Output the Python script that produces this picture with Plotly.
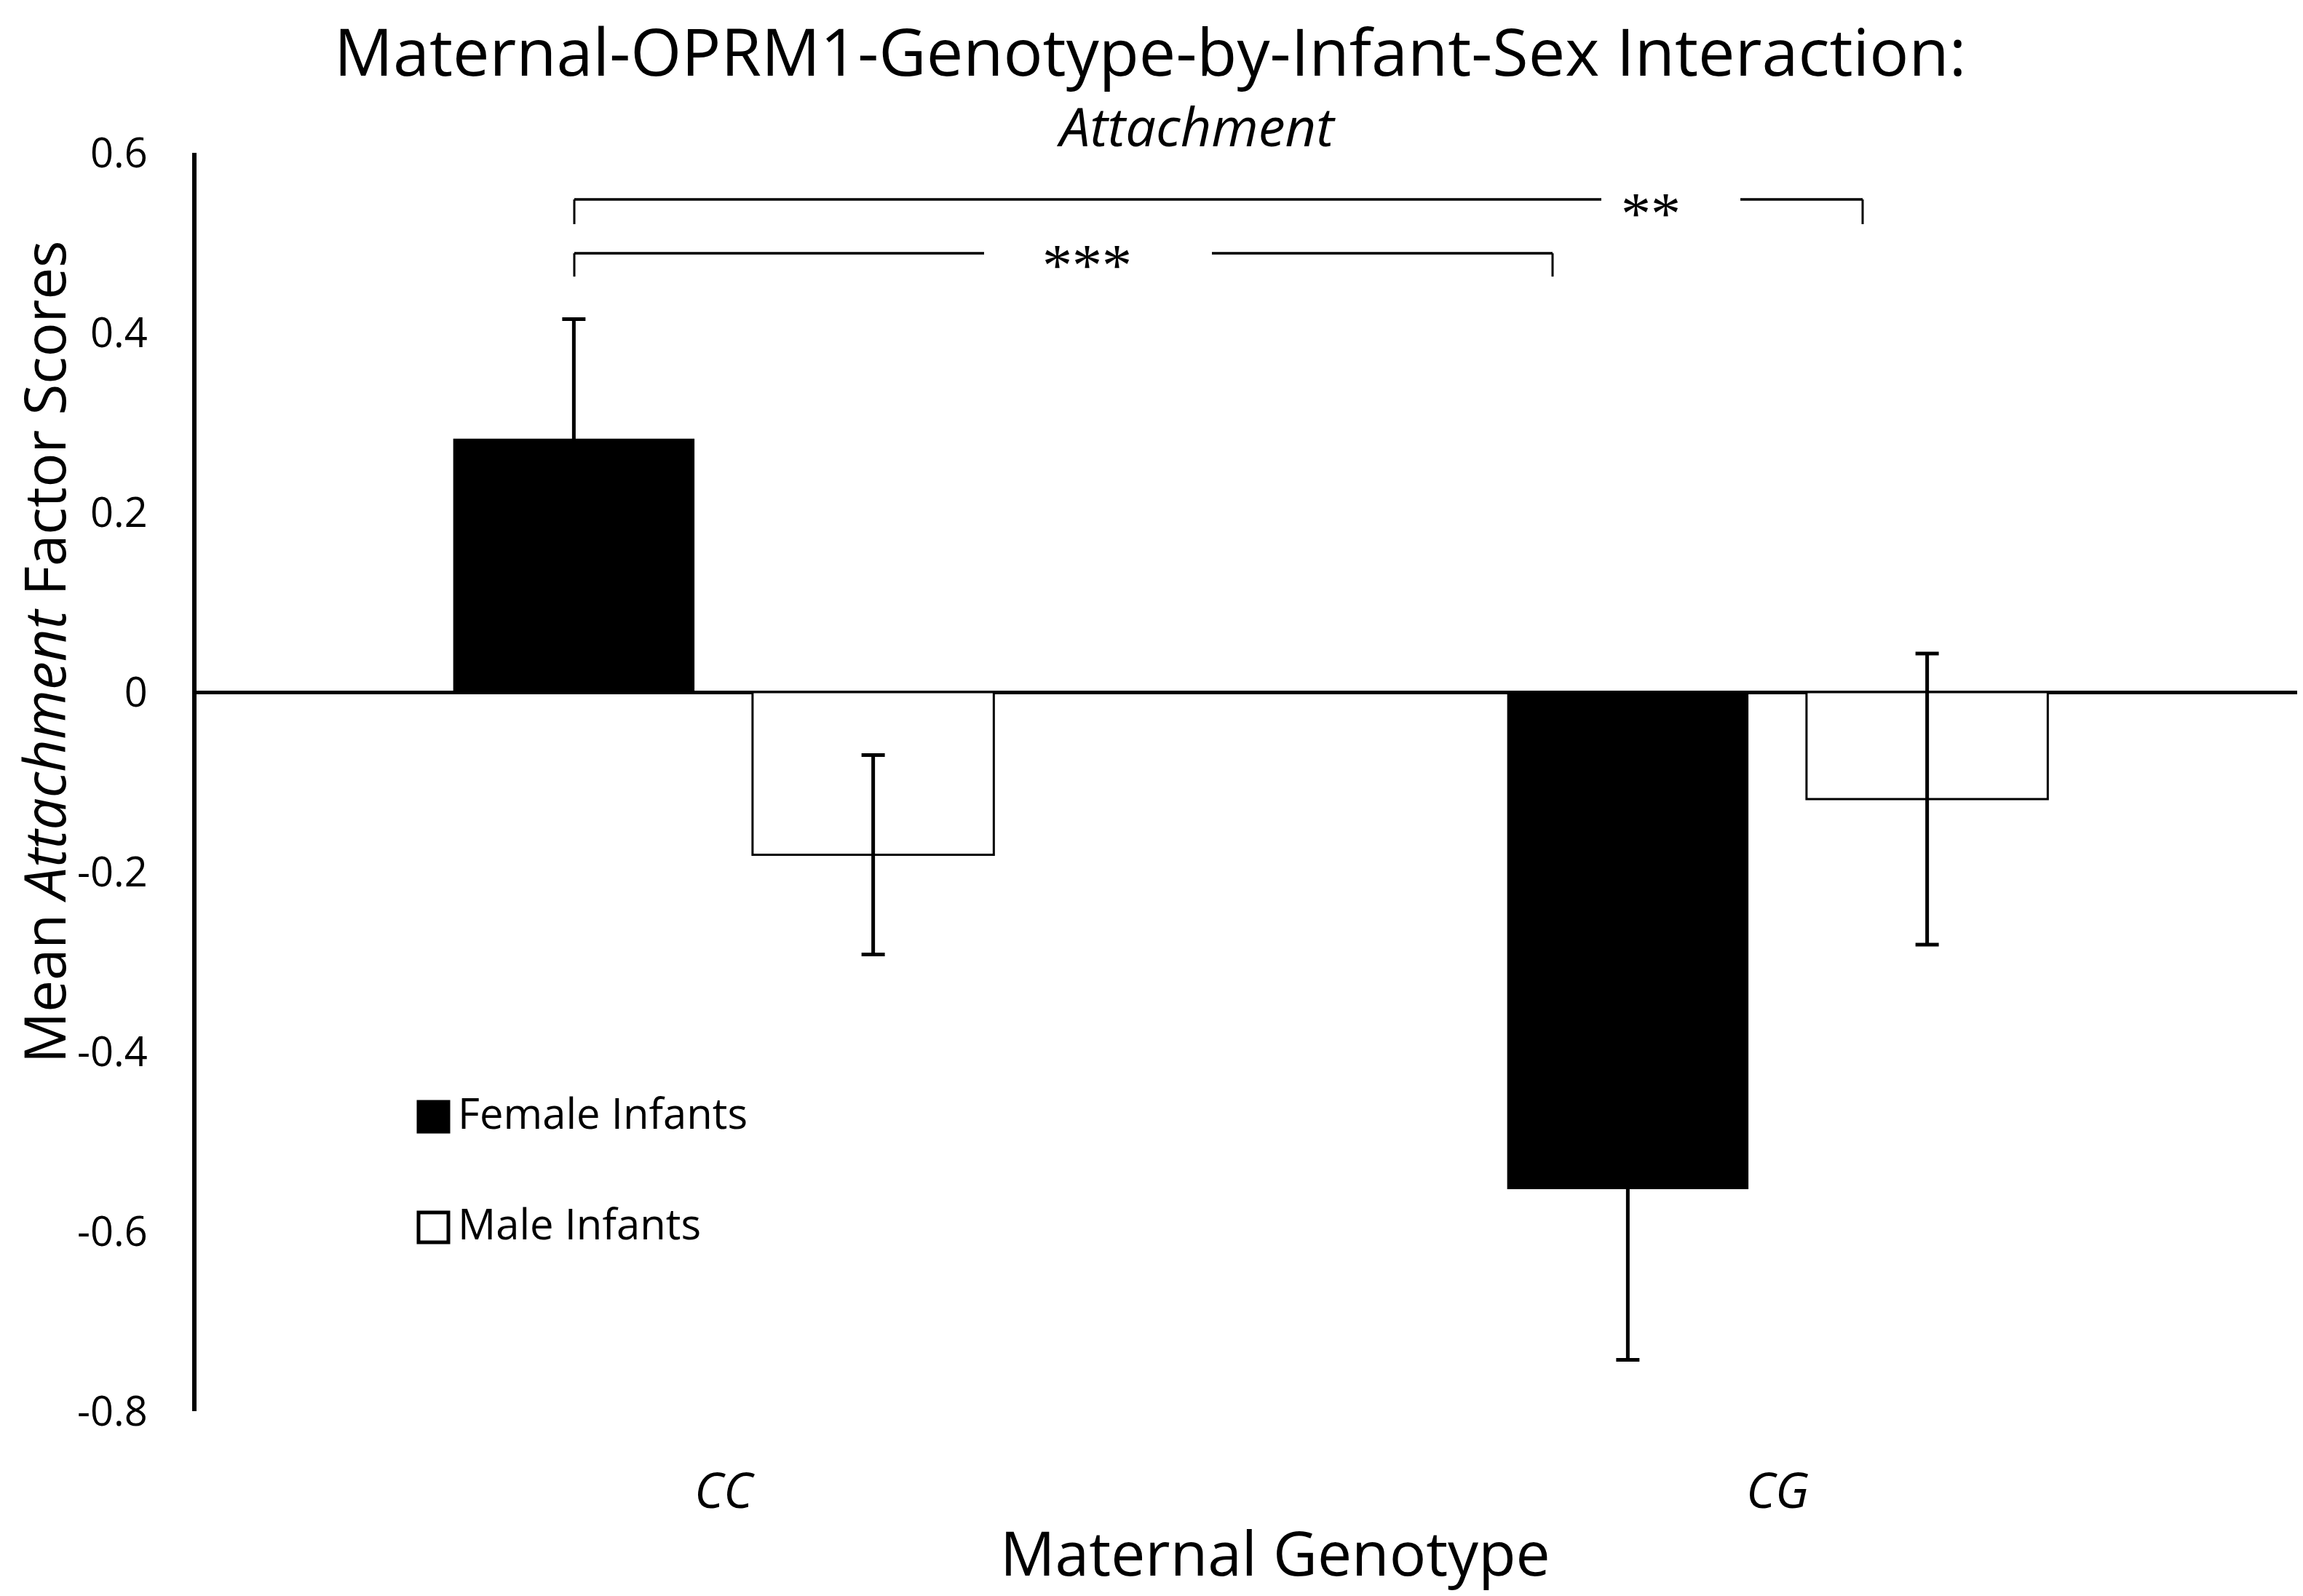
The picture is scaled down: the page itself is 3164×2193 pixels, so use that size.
import plotly.graph_objects as go

# ---- data ----
genotypes = ["CC", "CG"]
female_means = [0.282, -0.553]
female_err = [0.133, 0.19]
male_means = [-0.181, -0.119]
male_err = [0.111, 0.162]
series_names = ["Female Infants", "Male Infants"]
y_ticks = [0.6, 0.4, 0.2, 0, -0.2, -0.4, -0.6, -0.8]
y_ticktext = ["0.6", "0.4", "0.2", "0", "-0.2", "-0.4", "-0.6", "-0.8"]
sig_labels = ["***", "**"]

# ---- geometry (pixels) ----
W, H = 3164, 2193
DX, DY = -8, -10
ML, MR, MT, MB = 270 + DX, 6, 212 + DY, 252 - DY
PW, PH = W - ML - MR, H - MT - MB


def xp(px):
    return (px + DX - ML) / PW


def yp(py):
    return (H - MB - (py + DY)) / PH


def xd(px):
    return (px + DX - ML) / (PW / 2) - 0.5


def yd(py):
    return 0.6 - (py + DY - MT) / PH * 1.4


FONT = "Open Sans, Arial, sans-serif"

fig = go.Figure()
fig.add_trace(go.Bar(
    x=genotypes, y=female_means, name=series_names[0],
    marker=dict(color="black", line=dict(color="black", width=0)),
    error_y=dict(type="data", array=female_err, visible=True,
                 color="black", thickness=5, width=16),
    showlegend=False,
))
fig.add_trace(go.Bar(
    x=genotypes, y=male_means, name=series_names[1],
    marker=dict(color="white", line=dict(color="black", width=3)),
    error_y=dict(type="data", array=male_err, visible=True,
                 color="black", thickness=5, width=16),
    showlegend=False,
))

fig.update_layout(
    width=W, height=H,
    margin=dict(l=ML, r=MR, t=MT, b=MB, pad=0),
    paper_bgcolor="white", plot_bgcolor="white",
    barmode="group", bargap=0.432, bargroupgap=0.194,
    font=dict(family=FONT, color="black"),
    showlegend=False,
)
fig.update_xaxes(
    range=[-0.5, 1.5], showline=False, showgrid=False, zeroline=False,
    ticks="", tickfont=dict(family=FONT, size=68, style="italic", color="black"),
    ticklabelstandoff=64,
)
fig.update_yaxes(
    range=[-0.8, 0.6], showline=True, linecolor="black", linewidth=6,
    showgrid=False, zeroline=True, zerolinecolor="black", zerolinewidth=5,
    ticks="", tickvals=y_ticks, ticktext=y_ticktext,
    tickfont=dict(family=FONT, size=56, color="black"),
    ticklabelstandoff=50,
)

shapes = []
annotations = []

# significance brackets: (left px, gap start, gap end, right px, line y px, tick bottom y px, label x px, label y px)
brackets = [
    (789, 1352, 1665, 2133, 350, 382, 1493, 366),
    (789, 2200, 2391, 2559, 276, 310, 2268, 295),
]
for lab, (x0, g0, g1, x1, ly, ty, lx, lyy) in zip(sig_labels, brackets):
    for a, b in [(x0, g0), (g1, x1)]:
        shapes.append(dict(type="line", xref="x", yref="y", x0=xd(a), x1=xd(b),
                           y0=yd(ly), y1=yd(ly), line=dict(color="black", width=3.5)))
    for xx in (x0, x1):
        shapes.append(dict(type="line", xref="x", yref="y", x0=xd(xx), x1=xd(xx),
                           y0=yd(ly), y1=yd(ty), line=dict(color="black", width=3)))
    annotations.append(dict(text=lab, xref="x", yref="y", x=xd(lx), y=yd(lyy),
                            showarrow=False, xanchor="center", yanchor="middle",
                            font=dict(family="Liberation Serif, serif", size=82, color="black")))

# legend drawn manually
legend_rows = [(1515, 1558, "black"), (1667, 1710, "white")]
for (t, b, fill), name in zip(legend_rows, series_names):
    shapes.append(dict(type="rect", xref="paper", yref="paper",
                       x0=xp(575), x1=xp(616), y0=yp(b - 1), y1=yp(t + 1),
                       fillcolor=fill, line=dict(color="black", width=5)))
    annotations.append(dict(text=name, xref="paper", yref="paper",
                            x=xp(627), y=yp((t + b) / 2 - 6), showarrow=False,
                            xanchor="left", yanchor="middle",
                            font=dict(family=FONT, size=58, color="black")))

# titles
annotations.append(dict(text="Maternal-OPRM1-Genotype-by-Infant-Sex Interaction:",
                        xref="paper", yref="paper", x=xp(1580), y=yp(71),
                        showarrow=False, xanchor="center", yanchor="middle",
                        borderpad=0,
                        font=dict(family=FONT, size=90, color="black")))
annotations.append(dict(text="<i>Attachment</i>",
                        xref="paper", yref="paper", x=xp(1643), y=yp(174),
                        showarrow=False, xanchor="center", yanchor="middle",
                        font=dict(family=FONT, size=74, color="black")))
annotations.append(dict(text="Mean <i>Attachment</i> Factor Scores",
                        xref="paper", yref="paper", x=xp(60), y=yp(898),
                        showarrow=False, xanchor="center", yanchor="middle",
                        textangle=-90, borderpad=0,
                        font=dict(family=FONT, size=78, color="black")))
annotations.append(dict(text="Maternal Genotype",
                        xref="paper", yref="paper", x=xp(1752), y=yp(2134),
                        showarrow=False, xanchor="center", yanchor="middle",
                        font=dict(family=FONT, size=84, color="black")))

fig.update_layout(shapes=shapes, annotations=annotations)
fig.write_html("out.html")
